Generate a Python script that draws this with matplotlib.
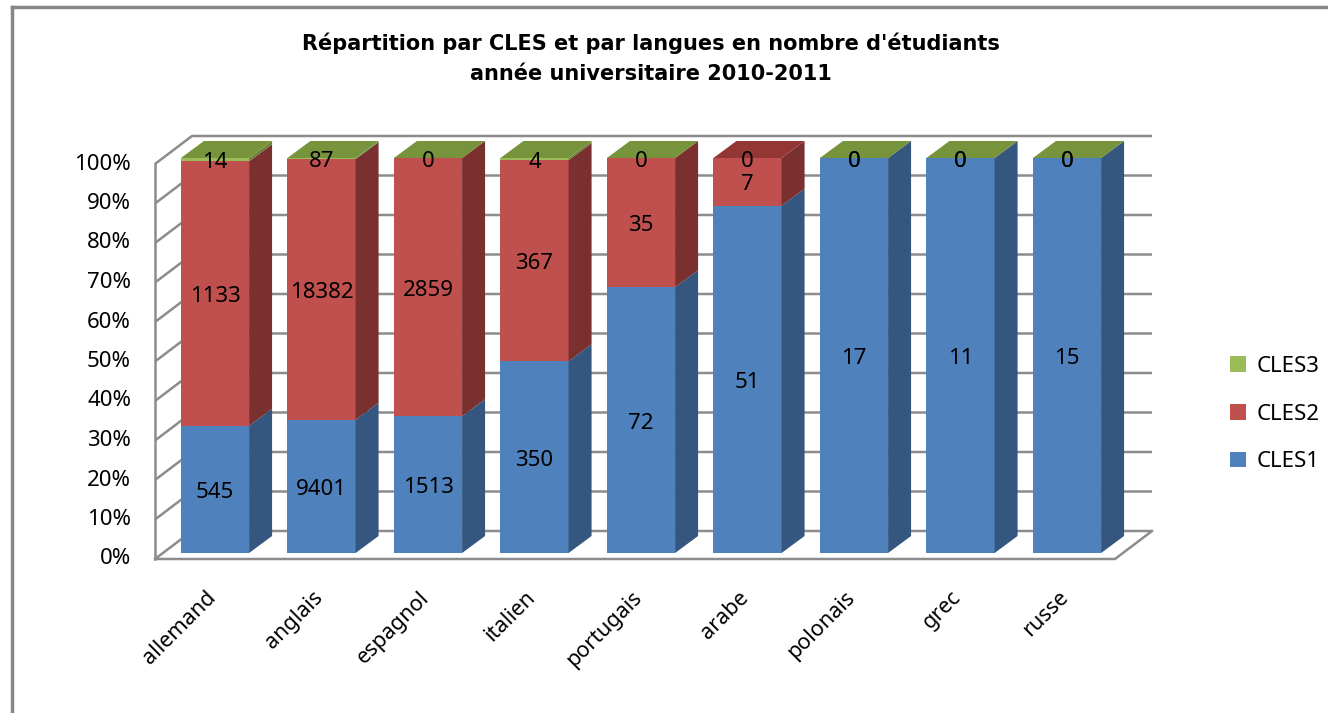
import numpy as np
import matplotlib
matplotlib.use("Agg")
import matplotlib.pyplot as plt
from matplotlib.patches import Polygon, Patch
from matplotlib.lines import Line2D

# data
langues = ['allemand', 'anglais', 'espagnol', 'italien', 'portugais',
           'arabe', 'polonais', 'grec', 'russe']
cles1 = [545, 9401, 1513, 350, 72, 51, 17, 11, 15]
cles2 = [1133, 18382, 2859, 367, 35, 7, 0, 0, 0]
cles3 = [14, 87, 0, 4, 0, 0, 0, 0, 0]
pct_ticks = [0, 10, 20, 30, 40, 50, 60, 70, 80, 90, 100]

plt.rcParams['font.family'] = ['Noto Sans', 'DejaVu Sans']

# colours (front, side, top)
c_blue, c_blue_s = '#4F81BD', '#34567F'
c_red, c_red_s, c_red_t = '#C0504D', '#7A302E', '#943634'
c_green, c_green_s, c_green_t = '#9BBB59', '#6A8236', '#77933C'
grid_c = '#8C8C8C'

W, H = 1328, 713
fig = plt.figure(figsize=(W / 100, H / 100), dpi=100)
ax = fig.add_axes([0, 0, 1, 1])
# one category = 106.5 px, one percent = 3.95 px; first bar centre at px 215, 0% at px 553
PX, PY = 106.5, 3.95
ax.set_xlim(-215 / PX, (W - 215) / PX)
ax.set_ylim((553 - H) / PY, 553 / PY)
ax.axis('off')

# 3d geometry (data units)
bw = 0.64
bdx, bdy = 23 / PX, 17 / PY          # bar depth
wdx, wdy = 37 / PX, 28 / PY          # wall depth
wx0, wx1 = -60 / PX, 900 / PX        # wall front left / floor front right
wy = -6 / PY                          # wall front 0% offset

# walls + gridlines
for p in pct_ticks:
    y = p + wy
    ax.plot([wx0, wx0 + wdx, wx1 + wdx], [y, y + wdy, y + wdy],
            color=grid_c, lw=1.8, zorder=1, solid_capstyle='butt')
    ax.text(wx0 - 24 / PX, y, f'{p}%', ha='right', va='center', fontsize=16)
ax.plot([wx0, wx0], [wy, 100 + wy], color=grid_c, lw=1.8, zorder=1)
ax.plot([wx0, wx1, wx1 + wdx], [wy, wy, wy + wdy], color=grid_c, lw=1.8, zorder=1)

x = np.arange(len(langues))
tot = np.array(cles1) + np.array(cles2) + np.array(cles3)
series = [(np.array(cles1) / tot * 100, cles1, c_blue, c_blue_s, 'CLES1'),
          (np.array(cles2) / tot * 100, cles2, c_red, c_red_s, 'CLES2'),
          (np.array(cles3) / tot * 100, cles3, c_green, c_green_s, 'CLES3')]

bottom = np.zeros(len(langues))
handles = []
for pct, raw, cf, cs, name in series:
    ax.bar(x, pct, bw, bottom=bottom, color=cf, zorder=3)
    for i in range(len(langues)):
        y0, y1 = bottom[i], bottom[i] + pct[i]
        xr = x[i] + bw / 2
        if pct[i] > 0:
            ax.add_patch(Polygon([(xr, y0), (xr + bdx, y0 + bdy), (xr + bdx, y1 + bdy), (xr, y1)],
                                 closed=True, facecolor=cs, edgecolor='none', zorder=3))
        if name != 'CLES1' or raw[i] > 0:
            ax.text(x[i], (y0 + y1) / 2 - 0.8, str(raw[i]), ha='center', va='center',
                    fontsize=16, zorder=6)
    bottom = bottom + pct
    handles.append(Patch(facecolor=cf, label=name))

# top faces + category labels
for i in range(len(langues)):
    xl = x[i] - bw / 2
    top_c = c_red_t if langues[i] == 'arabe' else c_green_t
    ax.add_patch(Polygon([(xl, 100), (xl + bdx, 100 + bdy), (xl + bw + bdx, 100 + bdy), (xl + bw, 100)],
                         closed=True, facecolor=top_c, edgecolor='none', zorder=4))
    ax.text(x[i] - 0.02, -10.5, langues[i], rotation=45, rotation_mode='anchor',
            ha='right', va='center', fontsize=15.5)

fig.legend(handles=handles[::-1], loc='upper left', bbox_to_anchor=(1210 / W, 1 - 336 / H),
           frameon=False, fontsize=16, handlelength=0.7, handleheight=0.7,
           handletextpad=0.5, labelspacing=1.2)

fig.text(651 / W, 1 - 43 / H, "Répartition par CLES et par langues en nombre d'étudiants",
         ha='center', va='center', fontsize=15, fontweight='bold', family='DejaVu Sans')
fig.text(651 / W, 1 - 74 / H, "année universitaire 2010-2011",
         ha='center', va='center', fontsize=15, fontweight='bold', family='DejaVu Sans')

# chart frame
fig.add_artist(Line2D([12 / W, 12 / W], [0, 1 - 7 / H], color='#868686', lw=2.5))
fig.add_artist(Line2D([12 / W, 1], [1 - 7 / H, 1 - 7 / H], color='#868686', lw=2.5))

fig.savefig('out.png', dpi=100)
